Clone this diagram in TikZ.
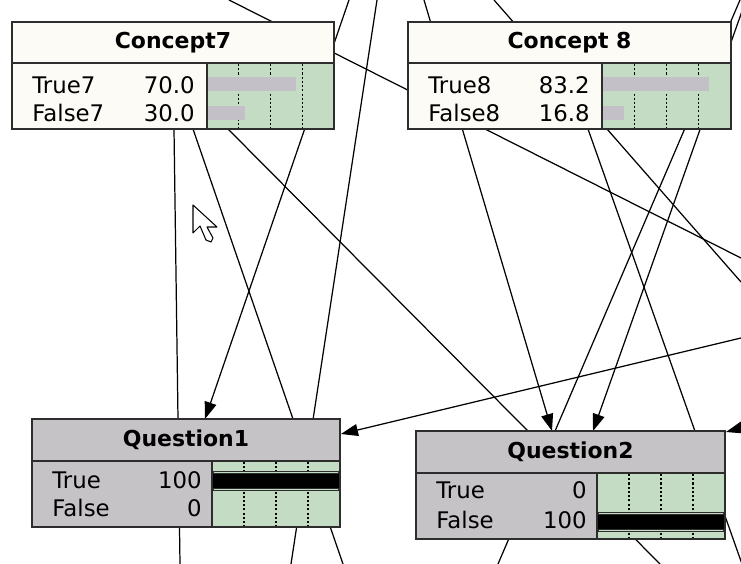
\documentclass[tikz,border=0pt]{standalone}
\usepackage{fontspec}
\setmainfont{DejaVu Sans}
\usetikzlibrary{arrows.meta}
\definecolor{titlebg}{RGB}{252,251,246}
\definecolor{qbg}{RGB}{198,195,198}
\definecolor{belief}{RGB}{196,220,196}
\definecolor{barclr}{RGB}{196,192,200}
\definecolor{edge}{RGB}{45,45,45}
\begin{document}
\begin{tikzpicture}[x=0.02cm, y=-0.02cm,
	link/.style={line width=0.7pt},
	tolink/.style={link, -{Triangle[length=3.4mm,width=2.4mm]}},
	frame/.style={draw=edge, line width=1.2pt},
	title/.style={font=\bfseries\fontsize{12.5}{14}\selectfont, inner sep=0pt},
	state/.style={font=\fontsize{13}{15}\selectfont, inner sep=0pt, anchor=west},
	prob/.style={font=\fontsize{13}{15}\selectfont, inner sep=0pt, anchor=east},
	tick/.style={line width=0.6pt, dash pattern=on 1.2pt off 1.2pt}]
		\useasboundingbox[fill=white] (0,0) rectangle (741,564);
		\clip (0,0) rectangle (741,564);
		
		\coordinate (t1) at (229,0);
		\coordinate (t2) at (349,0);
		\coordinate (t3) at (377,0);
		\coordinate (t4) at (424,0);
		\coordinate (t5) at (494,0);
		\coordinate (t6) at (740,0);
		\coordinate (t7) at (746,0);
		\coordinate (r1) at (741,258);
		\coordinate (r5) at (741,282);
		\coordinate (r12) at (741,338);
		\coordinate (r13) at (770,420);
		\coordinate (b3) at (291,564);
		\coordinate (b6) at (498,564);
		\coordinate (b8) at (180,564);
		\coordinate (b9) at (343,564);
		\coordinate (b10) at (660,564);
		\coordinate (b11) at (742,564);
		\coordinate (c7-s1) at (174,129);
		\coordinate (c7-s2) at (193,129);
		\coordinate (c7-s3) at (228,129);
		\coordinate (c8-s1) at (588,129);
		\coordinate (q1-n) at (205,419);
		\coordinate (q1-e) at (341,434);
		\coordinate (q2-n1) at (552,431);
		\coordinate (q2-n2) at (593,431);
		\coordinate (q2-e) at (726,432);
		
		\draw[link] (t1) -- (r1);
		\draw[tolink] (t2) -- (q1-n);
		\draw[link] (t3) -- (b3);
		\draw[tolink] (t4) -- (q2-n1);
		\draw[link] (t5) -- (r5);
		\draw[link] (t6) -- (b6);
		\draw[tolink] (t7) -- (q2-n2);
		\draw[link] (c7-s1) -- (b8);
		\draw[link] (c7-s2) -- (b9);
		\draw[link] (c7-s3) -- (b10);
		\draw[link] (c8-s1) -- (b11);
		\draw[tolink] (r12) -- (q1-e);
		\draw[tolink] (r13) -- (q2-e);
		
		\foreach \nm/\l/\r/\s/\ttl/\sa/\sb/\pa/\pb in {c7/12/334/207/Concept7/True7/False7/70.0/30.0, c8/408/731/602/Concept 8/True8/False8/83.2/16.8}
		{
			\fill[titlebg] (\l,22) rectangle (\r,129);
			\fill[belief] (\s,63) rectangle (\r,129);
			\foreach \q in {0.25, 0.5, 0.75}
				\draw[tick] ({\s+\q*(\r-\s)},64) -- ({\s+\q*(\r-\s)},128);
			\fill[barclr] (\s,77) rectangle ({\s+\pa/100*(\r-\s)},91);
			\fill[barclr] (\s,106) rectangle ({\s+\pb/100*(\r-\s)},120);
			\draw[frame] (\l,63) -- (\r,63) (\s,63) -- (\s,129);
			\draw[frame] (\l,22) rectangle (\r,129);
			\node[title] (\nm) at ({(\l+\r)/2},43) {\ttl};
			\node[state] (\nm-a) at (\l+20,85) {\sa};
			\node[state] (\nm-b) at (\l+20,113) {\sb};
			\node[prob] (\nm-pa) at (\s-12,85) {\pa};
			\node[prob] (\nm-pb) at (\s-12,113) {\pb};
		}
		
		\foreach \nm/\l/\r/\t/\s/\ra/\rb/\pa/\pb/\bar in {q1/32/340/419/212/480/508/100/0/481, q2/416/725/431/597/490/520/0/100/522}
		{
			\fill[qbg] (\l,\t) rectangle (\r,\t+108);
			\fill[belief] (\s,\t+42) rectangle (\r,\t+108);
			\foreach \q in {0.25, 0.5, 0.75}
				\draw[tick] ({\s+\q*(\r-\s)},\t+43) -- ({\s+\q*(\r-\s)},\t+107);
			\fill[edge] (\s,\bar-10) rectangle (\r,\bar+10);
			\fill[black] (\s,\bar-7) rectangle (\r,\bar+7);
			\draw[belief, line width=0.6pt] (\s+2,\bar-8.5) -- (\r-2,\bar-8.5) (\s+2,\bar+8.5) -- (\r-2,\bar+8.5);
			\draw[frame] (\l,\t+42) -- (\r,\t+42) (\s,\t+42) -- (\s,\t+108);
			\draw[frame] (\l,\t) rectangle (\r,\t+108);
			\node[title] (\nm) at ({(\l+\r)/2},\t+21) {\ifnum\l<100 Question1\else Question2\fi};
			\node[state] (\nm-a) at (\l+20,\ra) {True};
			\node[state] (\nm-b) at (\l+20,\rb) {False};
			\node[prob] (\nm-pa) at (\s-10,\ra) {\pa};
			\node[prob] (\nm-pb) at (\s-10,\rb) {\pb};
		}
		
		\draw[fill=white, line width=0.6pt, line join=round] (193,205) -- (193,233) -- (200,226) -- (206,240) -- (211,242) -- (213,238) -- (207,227) -- (217,227) -- cycle;
	\end{tikzpicture}
\end{document}
